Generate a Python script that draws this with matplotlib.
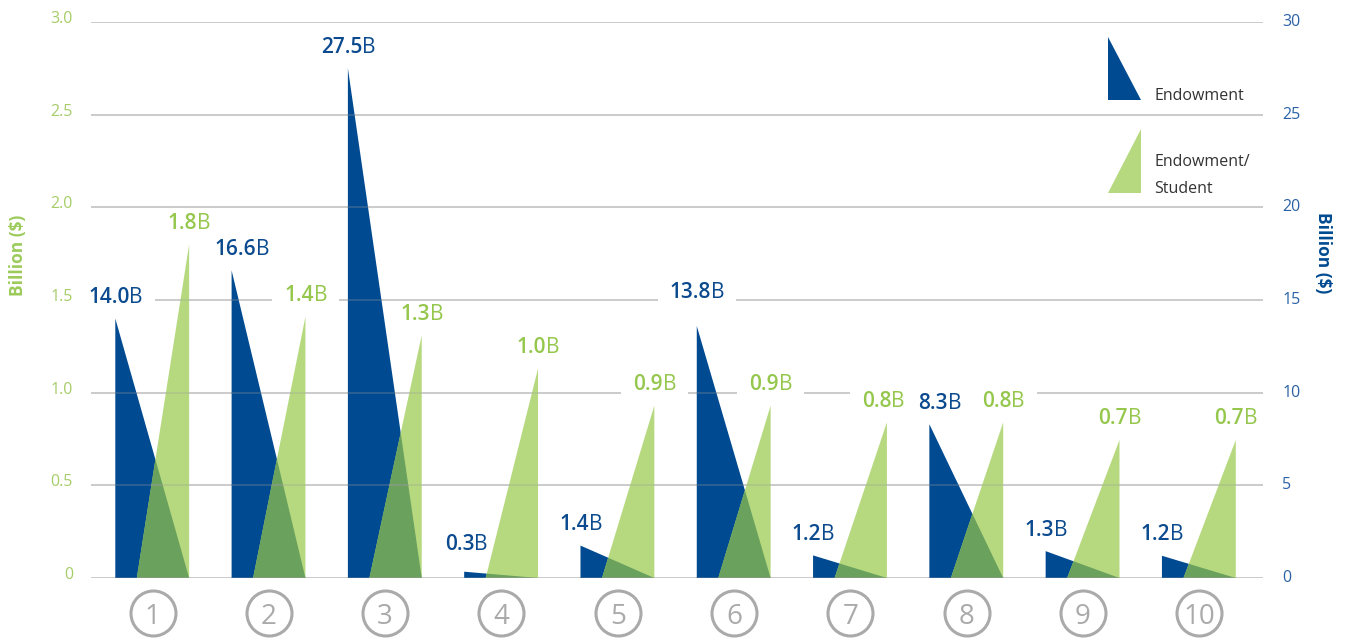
import matplotlib.pyplot as plt
import matplotlib.transforms as mtransforms
from matplotlib.patches import Polygon, Rectangle

plt.rcParams['font.family'] = ['Open Sans', 'DejaVu Sans']

# data
schools = ['1', '2', '3', '4', '5', '6', '7', '8', '9', '10']
endowment = [14.0, 16.6, 27.5, 0.34, 1.75, 13.6, 1.22, 8.3, 1.45, 1.2]
endowment_labels = ['14.0', '16.6', '27.5', '0.3', '1.4', '13.8', '1.2', '8.3', '1.3', '1.2']
per_student = [1.80, 1.41, 1.31, 1.13, 0.93, 0.93, 0.84, 0.84, 0.745, 0.745]
per_student_labels = ['1.8', '1.4', '1.3', '1.0', '0.9', '0.9', '0.8', '0.8', '0.7', '0.7']
left_ticks = [0, 0.5, 1.0, 1.5, 2.0, 2.5, 3.0]
left_ticklabels = ['0', '0.5', '1.0', '1.5', '2.0', '2.5', '3.0']
right_ticks = [0, 5, 10, 15, 20, 25, 30]

BLUE = '#004a91'
BLUE_TXT = '#0b4a8e'
BLUE_TICK = '#2a62a5'
GREEN = '#b6d980'
GREEN_TXT = '#95c74d'
GREEN_TICK = '#a5cd68'
OVERLAP = '#6aa15d'
GRAY = '#aaaaab'
GRID = '#bdbdbd'

fig = plt.figure(figsize=(13.49, 6.4), dpi=100)
ax = fig.add_axes([91 / 1349, 62 / 640, 1172 / 1349, 556 / 640])
ax2 = ax.twinx()

n = len(schools)
ax.set_xlim(-0.529, 9.549)
ax.set_ylim(0, 3.0)
ax2.set_ylim(0, 30)

for a in (ax, ax2):
    for s in a.spines.values():
        s.set_visible(False)
    a.tick_params(length=0)
ax.set_xticks([])

ax.set_yticks(left_ticks)
ax.set_yticklabels(left_ticklabels, color=GREEN_TICK, fontsize=11.5)
ax.tick_params(axis='y', pad=13)
ax2.set_yticks(right_ticks)
ax2.set_yticklabels([str(t) for t in right_ticks], color=BLUE_TICK, fontsize=11.5)
ax2.tick_params(axis='y', pad=14)

up5 = mtransforms.ScaledTranslation(0, 5 / 100, fig.dpi_scale_trans)
up2 = mtransforms.ScaledTranslation(0, 2 / 100, fig.dpi_scale_trans)
for lab in ax.get_yticklabels():
    lab.set_transform(lab.get_transform() + up5)
for lab in ax2.get_yticklabels():
    lab.set_transform(lab.get_transform() + up2)

# grid under everything (label boxes cut it)
ax2.set_axisbelow(True)
ax2.grid(axis='y', color=GRID, lw=1.1)
ax2.grid(axis='x', visible=False)

bw_left, right_edge, gw_left = -0.32, 0.315, -0.135
xmin, xmax = ax.get_xlim()

for i in range(n):
    blue = Polygon([(i + bw_left, 0), (i + bw_left, endowment[i]), (i + right_edge, 0)],
                   closed=True, fc=BLUE, ec='none', zorder=1)
    ax2.add_patch(blue)
    green = Polygon([(i + gw_left, 0), (i + right_edge, per_student[i]), (i + right_edge, 0)],
                    closed=True, fc=GREEN, ec='none', zorder=1.2, transform=ax.transData)
    ax2.add_patch(green)
    over = Polygon([(i + bw_left, 0), (i + bw_left, endowment[i]), (i + right_edge, 0)],
                   closed=True, fc=OVERLAP, ec='none', zorder=1.4)
    ax2.add_patch(over)
    over.set_clip_path(green)
    # faint grid showing through the triangles
    for tri in (blue, green):
        lc = ax2.hlines(right_ticks, xmin, xmax, color='#9a9a9a', alpha=0.35, lw=1.1, zorder=2)
        lc.set_clip_path(tri)

labels = []


def value_label(x, y, num, color, trans, dx=0, dy=0):
    t = ax2.annotate(num, (x, y), xycoords=trans, xytext=(dx - 6.5, 21 + dy),
                     textcoords='offset pixels', ha='center', va='center',
                     fontsize=15, fontweight='semibold', color=color, zorder=4,
                     annotation_clip=False)
    b = ax2.annotate('B', xy=(1, 0), xycoords=t, ha='left', va='bottom',
                     fontsize=15, color=color, zorder=4)
    labels.append((t, b))


blue_nudge = {1: (10, 0), 3: (2, 6), 5: (0, 12), 7: (10, 0)}
green_nudge = {6: (-4, 0)}
for i in range(n):
    bdx, bdy = blue_nudge.get(i, (0, 0))
    value_label(i + bw_left, endowment[i], endowment_labels[i], BLUE_TXT, ax2.transData, bdx, bdy)
    gdx, gdy = green_nudge.get(i, (0, 0))
    value_label(i + right_edge, per_student[i], per_student_labels[i], GREEN_TXT, ax.transData, gdx, gdy)

# white boxes behind the labels so they cut the grid lines
fig.canvas.draw()
r = fig.canvas.get_renderer()
for t, b in labels:
    bb = mtransforms.Bbox.union([t.get_window_extent(r), b.get_window_extent(r)])
    pad = 12
    ax2.add_patch(Rectangle((bb.x0 - pad, bb.y0 - 3), bb.width + 2 * pad, bb.height + 6,
                            transform=None, fc='white', ec='none', zorder=0.8))

# numbered circles under the groups
circ = mtransforms.blended_transform_factory(ax.transData, ax.transAxes)
ax2.plot(range(n), [-0.063] * n, 'o', ms=32.4, mfc='white', mec=GRAY, mew=2.2,
         transform=circ, clip_on=False, zorder=5)
for i, s in enumerate(schools):
    ax2.text(i, -0.063, s, transform=circ, ha='center', va='center_baseline',
             fontsize=20, color=GRAY, zorder=6)

# axis titles
fig.text(18 / 1349, 1 - 255 / 640, 'Billion ($)', rotation=90, ha='center', va='center',
         fontsize=12.5, fontweight='bold', color='#9ccb5a')
fig.text(1323 / 1349, 1 - 253 / 640, 'Billion ($)', rotation=-90, ha='center', va='center',
         fontsize=12.5, fontweight='bold', color=BLUE)

# legend
W, H = 1349, 640
fig.patches.append(Polygon([(1108 / W, 1 - 37 / H), (1108 / W, 1 - 100 / H), (1141 / W, 1 - 100 / H)],
                           closed=True, fc=BLUE, ec='none', transform=fig.transFigure))
fig.patches.append(Polygon([(1108 / W, 1 - 193 / H), (1141 / W, 1 - 193 / H), (1141 / W, 1 - 129 / H)],
                           closed=True, fc=GREEN, ec='none', transform=fig.transFigure))
fig.text(1154 / W, 1 - 100 / H, 'Endowment', ha='left', va='baseline', fontsize=11.5, color='#333333')
fig.text(1154 / W, 1 - 166 / H, 'Endowment/', ha='left', va='baseline', fontsize=11.5, color='#333333')
fig.text(1154 / W, 1 - 193 / H, 'Student', ha='left', va='baseline', fontsize=11.5, color='#333333')

fig.savefig('out.png', dpi=100)
